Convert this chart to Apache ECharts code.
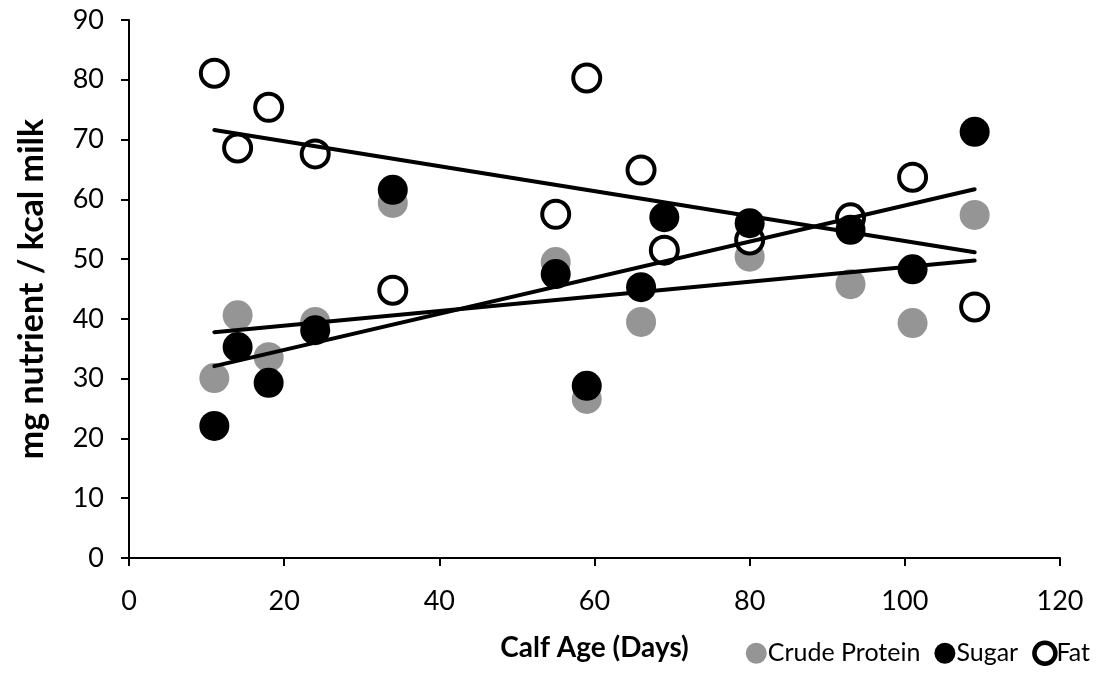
<!DOCTYPE html>
<html>
<head>
<meta charset="utf-8">
<script src="https://cdn.jsdelivr.net/npm/echarts@6/dist/echarts.min.js"></script>
<style>
html,body{margin:0;padding:0;background:#fff;}
#chart{width:1099px;height:673px;}
</style>
</head>
<body>
<div id="chart"></div>
<script>
var age = [11, 14, 18, 24, 34, 55, 59, 66, 69, 80, 93, 101, 109];
var protein = [30.1, 40.6, 33.6, 39.5, 59.4, 49.5, 26.6, 39.5, 51.5, 50.4, 45.8, 39.3, 57.4];
var sugar = [22.1, 35.3, 29.3, 38.1, 61.6, 47.5, 28.8, 45.3, 57.0, 56.0, 54.9, 48.3, 71.3];
var fat = [81.1, 68.6, 75.4, 67.6, 44.8, 57.5, 80.3, 64.9, 51.5, 53.2, 56.9, 63.7, 42.0];
var xTicks = [0, 20, 40, 60, 80, 100, 120];
var yTicks = [0, 10, 20, 30, 40, 50, 60, 70, 80, 90];

function pairs(ys) {
  var out = [];
  for (var i = 0; i < age.length; i++) out.push([age[i], ys[i]]);
  return out;
}

// least squares trend, drawn between first and last age
function trend(ys) {
  var n = age.length, sx = 0, sy = 0, sxx = 0, sxy = 0;
  for (var i = 0; i < n; i++) {
    sx += age[i]; sy += ys[i]; sxx += age[i] * age[i]; sxy += age[i] * ys[i];
  }
  var b = (n * sxy - sx * sy) / (n * sxx - sx * sx);
  var a = (sy - b * sx) / n;
  var x0 = age[0], x1 = age[n - 1];
  return [[x0, a + b * x0], [x1, a + b * x1]];
}

var font = 'Lato, "Open Sans", sans-serif';
var myChart = echarts.init(document.getElementById('chart'));

function trendSeries(ys) {
  return {
    type: 'line',
    data: trend(ys),
    symbol: 'none',
    silent: true,
    z: 5,
    lineStyle: {color: '#000', width: 4, cap: 'round'},
    animation: false
  };
}

var option = {
  animation: false,
  backgroundColor: '#fff',
  grid: {left: 129, right: 39, top: 20, bottom: 115},
  legend: {
    data: [
      {name: 'Crude Protein', icon: 'circle', itemStyle: {color: '#959595', borderWidth: 0}},
      {name: 'Sugar', icon: 'circle', itemStyle: {color: '#000', borderWidth: 0}},
      {name: 'Fat', icon: 'circle', itemStyle: {color: '#fff', borderColor: '#000', borderWidth: 4.5}}
    ],
    right: 4,
    bottom: 2,
    itemWidth: 21,
    itemHeight: 21,
    itemGap: 14,
    selectedMode: false,
    textStyle: {fontFamily: font, fontSize: 25, color: '#000', padding: [0, 0, 0, -4]}
  },
  xAxis: {
    type: 'value',
    min: 0, max: 120, interval: 20,
    name: 'Calf Age (Days)',
    nameLocation: 'middle',
    nameGap: 76,
    nameTextStyle: {fontFamily: font, fontSize: 28, fontWeight: 'bold', color: '#000'},
    axisLine: {lineStyle: {color: '#000', width: 2}},
    axisTick: {show: true, length: 8, inside: false, lineStyle: {color: '#000', width: 2}},
    axisLabel: {fontFamily: font, fontSize: 27, color: '#000', margin: 30},
    splitLine: {show: false}
  },
  yAxis: {
    type: 'value',
    min: 0, max: 90, interval: 10,
    name: 'mg nutrient / kcal milk',
    nameLocation: 'middle',
    nameGap: 80,
    nameTextStyle: {fontFamily: font, fontSize: 34, fontWeight: 'bold', color: '#000'},
    axisLine: {show: true, lineStyle: {color: '#000', width: 2}},
    axisTick: {show: true, length: 8, inside: false, lineStyle: {color: '#000', width: 2}},
    axisLabel: {fontFamily: font, fontSize: 27, color: '#000', margin: 25},
    splitLine: {show: false}
  },
  series: [
    {
      name: 'Crude Protein', type: 'scatter', data: pairs(protein),
      symbol: 'circle', symbolSize: 30, z: 2,
      itemStyle: {color: '#959595', opacity: 1}
    },
    {
      name: 'Fat', type: 'scatter', data: pairs(fat),
      symbol: 'circle', symbolSize: 27, z: 3,
      itemStyle: {color: '#fff', borderColor: '#000', borderWidth: 4, opacity: 1}
    },
    {
      name: 'Sugar', type: 'scatter', data: pairs(sugar),
      symbol: 'circle', symbolSize: 30, z: 4,
      itemStyle: {color: '#000', opacity: 1}
    },
    trendSeries(protein),
    trendSeries(sugar),
    trendSeries(fat)
  ]
};

myChart.setOption(option);
</script>
</body>
</html>
